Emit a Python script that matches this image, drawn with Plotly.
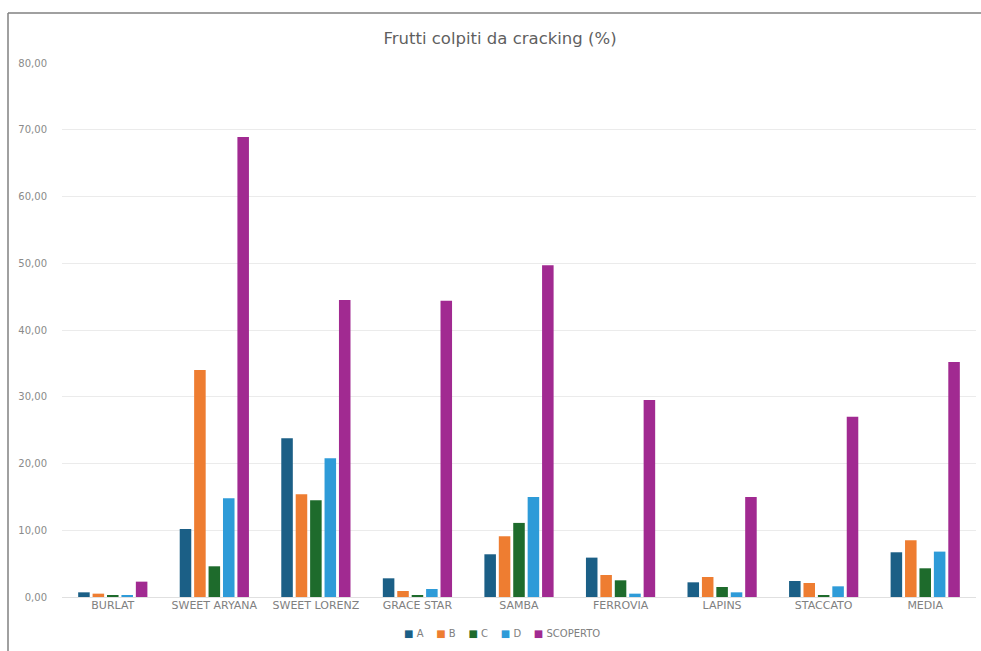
import plotly.graph_objects as go

categories = ["BURLAT", "SWEET ARYANA", "SWEET LORENZ", "GRACE STAR", "SAMBA",
              "FERROVIA", "LAPINS", "STACCATO", "MEDIA"]

series_names = ["A", "B", "C", "D", "SCOPERTO"]

values_a = [0.7, 10.2, 23.8, 2.8, 6.4, 5.9, 2.2, 2.4, 6.7]
values_b = [0.5, 34.0, 15.4, 0.9, 9.1, 3.3, 3.0, 2.1, 8.5]
values_c = [0.2, 4.6, 14.5, 0.3, 11.1, 2.5, 1.5, 0.2, 4.3]
values_d = [0.3, 14.8, 20.8, 1.2, 15.0, 0.5, 0.7, 1.6, 6.8]
values_scoperto = [2.3, 68.9, 44.5, 44.4, 49.7, 29.5, 15.0, 27.0, 35.2]

series_values = [values_a, values_b, values_c, values_d, values_scoperto]
colors = ["#1B5F86", "#EE7D31", "#1E6B2C", "#2E9BD8", "#A12A91"]

y_ticks = [0, 10, 20, 30, 40, 50, 60, 70, 80]
y_tick_labels = ["0,00", "10,00", "20,00", "30,00", "40,00", "50,00", "60,00", "70,00", "80,00"]

FONT = "DejaVu Sans, Liberation Sans, Arial, sans-serif"
TEXT_GREY = "#808080"

fig = go.Figure()
for name, vals, col in zip(series_names, series_values, colors):
    fig.add_trace(go.Bar(
        x=categories, y=vals, name=name, showlegend=False,
        marker=dict(color=col, line=dict(width=0)),
    ))

W, H = 981, 651
ml, mr, mt, mb = 62, 5, 63, 54
pw, ph = W - ml - mr, H - mt - mb

def px_x(px):
    return (px - ml) / pw

def px_y(py):
    return (H - mb - py) / ph

# compact legend: small coloured squares sitting right next to each series name
legend_parts = [
    f"<span style='color:{col}'>■</span>&nbsp;{name}"
    for name, col in zip(series_names, colors)
]
legend_text = "&nbsp;&nbsp;&nbsp;&nbsp;".join(legend_parts)

fig.update_layout(
    width=W, height=H,
    margin=dict(l=ml, r=mr, t=mt, b=mb),
    paper_bgcolor="white", plot_bgcolor="white",
    font=dict(family=FONT, color=TEXT_GREY, size=10),
    barmode="group", bargap=0.29, bargroupgap=0.2,
    showlegend=False,
    title=dict(text="Frutti colpiti da cracking (%)", x=px_x(500), xanchor="center",
               xref="paper", y=1 - 38 / H, yanchor="middle",
               font=dict(family=FONT, size=16.5, color="#5f5f5f")),
    xaxis=dict(showgrid=False, showline=False, ticks="",
               tickfont=dict(family=FONT, size=11, color=TEXT_GREY)),
    yaxis=dict(range=[0, 80], tickvals=y_ticks, ticktext=y_tick_labels,
               showgrid=True, gridcolor="#ebebeb", gridwidth=1,
               zeroline=True, zerolinecolor="#e0e0e0", zerolinewidth=1,
               showline=False, ticks="", ticklabelstandoff=14,
               tickfont=dict(family=FONT, size=10, color="#8a8a8a")),
    annotations=[
        dict(text=legend_text, xref="paper", yref="paper",
             x=px_x(502), y=px_y(633), xanchor="center", yanchor="middle",
             showarrow=False, font=dict(family=FONT, size=10, color=TEXT_GREY)),
    ],
    shapes=[
        dict(type="line", xref="paper", yref="paper",
             x0=px_x(8), x1=px_x(8), y0=px_y(H + 5), y1=px_y(13),
             line=dict(color="#808080", width=1.5)),
        dict(type="line", xref="paper", yref="paper",
             x0=px_x(8), x1=px_x(W + 5), y0=px_y(13), y1=px_y(13),
             line=dict(color="#808080", width=1.5)),
    ],
)

fig.write_html("out.html")
